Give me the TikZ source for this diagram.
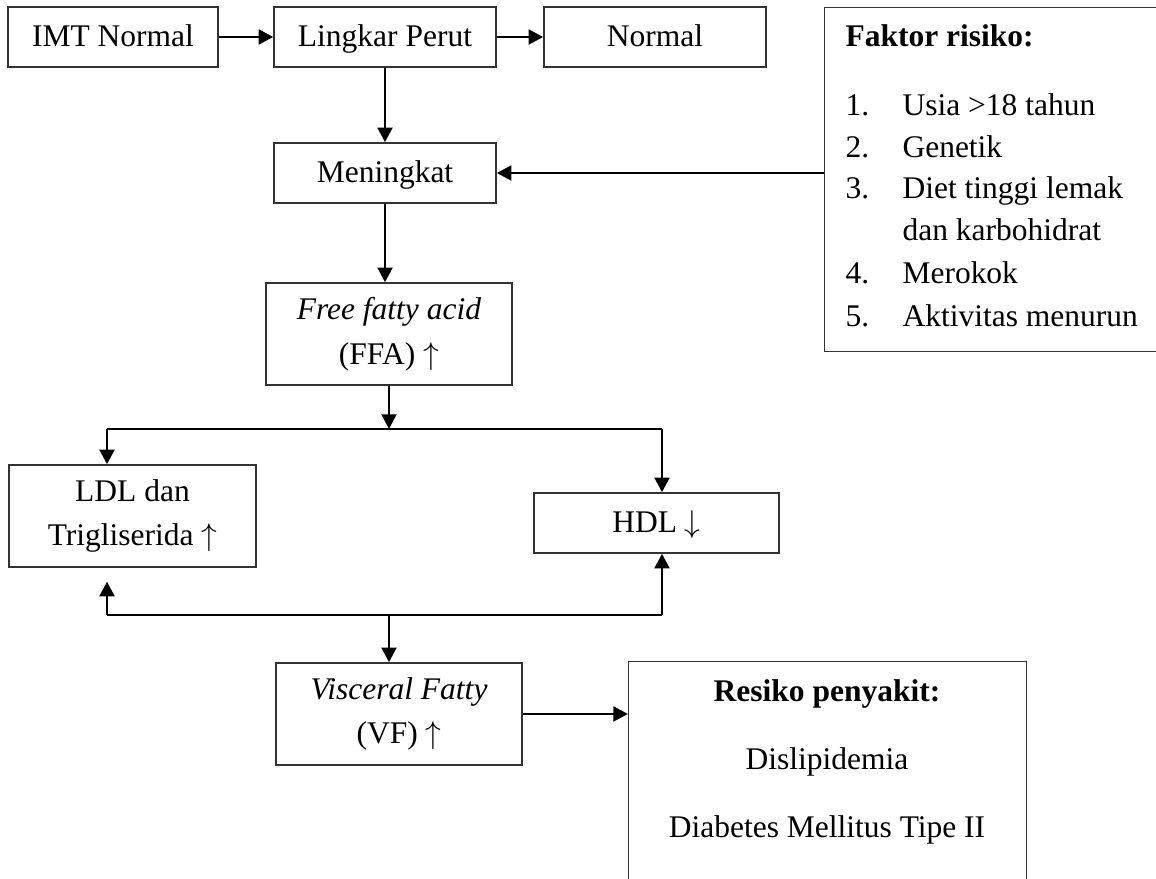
\documentclass[tikz,border=0pt]{standalone}
\usepackage{fontspec}
\setmainfont{Liberation Serif}
\usepackage{tikz}
\usetikzlibrary{arrows.meta, positioning, calc}
\tikzset{
    box/.style={rectangle, draw=black!80, line width=0.5pt, align=center, inner sep=2pt},
    onebox/.style={box, text height=9pt, text depth=1.4pt},
    listtext/.style={anchor=base west, inner sep=0pt},
    centertext/.style={anchor=base, inner sep=0pt},
    arrow/.style={line width=1.1pt, -{Triangle[length=5.6pt, width=5.6pt]}},
    link/.style={line width=1.1pt}
}

\begin{document}
\begin{tikzpicture}[x=0.381pt, y=-0.381pt, font=\fontsize{12}{17}\selectfont]
    \useasboundingbox (0,0) rectangle (1156,879);

    % Main chain
    \node[onebox, minimum width=80pt, minimum height=22.9pt] (imt) at (113,37) {IMT Normal};
    \node[onebox, minimum width=84.6pt, minimum height=22.9pt] (lingkar) at (385,37) {Lingkar Perut};
    \node[onebox, minimum width=84.6pt, minimum height=22.9pt] (normal) at (655,37) {Normal};
    \node[onebox, minimum width=84.6pt, minimum height=22.9pt] (meningkat) at (385,173) {Meningkat};
    \node[box, minimum width=93.7pt, minimum height=38.9pt] (ffa) at (389,334) {\textit{Free fatty acid}\\(FFA) $\uparrow$};
    \node[box, minimum width=94.1pt, minimum height=38.9pt] (ldl) at (132.5,516) {LDL dan\\Trigliserida $\uparrow$};
    \node[onebox, minimum width=93.3pt, minimum height=22.9pt] (hdl) at (656.5,523) {HDL $\downarrow$};
    \node[box, minimum width=93.7pt, minimum height=38.9pt] (vf) at (399,714) {\textit{Visceral Fatty}\\(VF) $\uparrow$};

    % Risk factors (box runs off the right edge)
    \node[box, anchor=north west, minimum width=128.8pt, minimum height=131.1pt] (faktor) at (824,7) {};
    \node[listtext] (ftitle) at (845,47) {\textbf{Faktor risiko:}};
    \node[listtext] (n1) at (845,116) {1.};
    \node[listtext] (f1) at (902,116) {Usia >18 tahun};
    \node[listtext] (n2) at (845,158) {2.};
    \node[listtext] (f2) at (902,158) {Genetik};
    \node[listtext] (n3) at (845,199) {3.};
    \node[listtext] (f3) at (902,199) {Diet tinggi lemak};
    \node[listtext] (f3b) at (902,241) {dan karbohidrat};
    \node[listtext] (n4) at (845,284) {4.};
    \node[listtext] (f4) at (902,284) {Merokok};
    \node[listtext] (n5) at (845,327) {5.};
    \node[listtext] (f5) at (902,327) {Aktivitas menurun};

    % Disease risk (box runs off the bottom edge)
    \node[box, anchor=north west, minimum width=151.6pt, minimum height=85.3pt] (resiko) at (628,661) {};
    \node[centertext] (rtitle) at (827,702) {\textbf{Resiko penyakit:}};
    \node[centertext] (r1) at (827,770) {Dislipidemia};
    \node[centertext] (r2) at (827,838) {Diabetes Mellitus Tipe II};

    % Branch points
    \coordinate (splitL) at (107,429);
    \coordinate (splitR) at (662,429);
    \coordinate (joinL) at (107,615);
    \coordinate (joinR) at (662,615);

    % Connectors
    \draw[arrow] (imt.east) -- (lingkar.west);
    \draw[arrow] (lingkar.east) -- (normal.west);
    \draw[arrow] (lingkar.south) -- (meningkat.north);
    \draw[arrow] (meningkat.east -| faktor.west) -- (meningkat.east);
    \draw[arrow] (meningkat.south) -- (meningkat.south |- ffa.north);
    \draw[arrow] (ffa.south) -- (ffa.south |- splitL);
    \draw[link] (splitL) -- (splitR);
    \draw[arrow] (splitL) -- (splitL |- ldl.north);
    \draw[arrow] (splitR) -- (splitR |- hdl.north);
    \draw[link] (joinL) -- (joinR);
    \draw[arrow, shorten >=5.3pt] (joinL) -- (joinL |- ldl.south);
    \draw[arrow] (joinR) -- (joinR |- hdl.south);
    \draw[arrow] (ffa.south |- joinL) -- (ffa.south |- vf.north);
    \draw[arrow] (vf.east) -- (vf.east -| resiko.west);
\end{tikzpicture}
\end{document}
